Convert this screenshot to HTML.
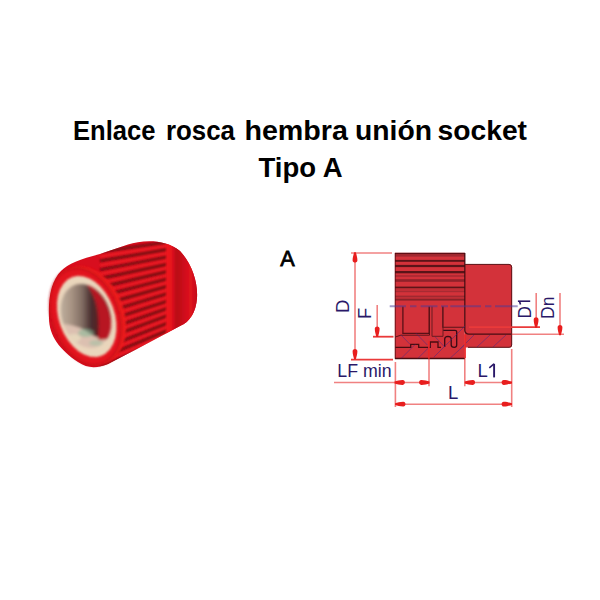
<!DOCTYPE html>
<html><head><meta charset="utf-8">
<style>
html,body{margin:0;padding:0;background:#fff;width:600px;height:600px;overflow:hidden}
svg{position:absolute;left:0;top:0;display:block}
text{font-family:"Liberation Sans",sans-serif}
</style></head>
<body>
<svg width="600" height="600" viewBox="0 0 600 600">
<defs>
<clipPath id="bodyclip"><path id="cyl" d="M96 268 L160 242 Q190 250 196 293 Q193 330 185 345 L104 364 Z"/></clipPath>
</defs>
<!-- Title -->
<g fill="#000" font-weight="bold" font-size="26.8" text-anchor="middle">
<text x="73.00" y="140" text-anchor="start" textLength="82.40" lengthAdjust="spacingAndGlyphs">Enlace</text>
<text x="166.00" y="140" text-anchor="start" textLength="69.00" lengthAdjust="spacingAndGlyphs">rosca</text>
<text x="244.40" y="140" text-anchor="start" textLength="103.60" lengthAdjust="spacingAndGlyphs">hembra</text>
<text x="355.00" y="140" text-anchor="start" textLength="77.00" lengthAdjust="spacingAndGlyphs">unión</text>
<text x="437.50" y="140" text-anchor="start" textLength="89.50" lengthAdjust="spacingAndGlyphs">socket</text>
<text x="300.5" y="176.8" textLength="84" lengthAdjust="spacingAndGlyphs">Tipo A</text>
</g>

<!-- Photo -->
<g id="photo">
<defs>
<clipPath id="silclip"><path d="M49 318 C48 296 52 280 61 271 C68 264 80 259 100 254 L128 244.5 C142 240 165 238.5 180 251 C192 264 198 282 197 298 C196 312 190 322 180 326 L135 350 L108 364 C98 368 88 369 78 362 C60 350 49 336 49 318 Z"/></clipPath>
<linearGradient id="backg" x1="0" y1="0" x2="1" y2="0">
<stop offset="0" stop-color="#f01a20"/>
<stop offset="0.15" stop-color="#e8141e"/>
<stop offset="0.3" stop-color="#b80a18"/>
<stop offset="0.5" stop-color="#cc0c1a"/>
<stop offset="0.7" stop-color="#e01420"/>
<stop offset="0.9" stop-color="#c00818"/>
<stop offset="1" stop-color="#b00816"/>
</linearGradient>
<linearGradient id="holeg" x1="0" y1="0" x2="1" y2="0">
<stop offset="0" stop-color="#c8bcaa"/>
<stop offset="0.25" stop-color="#a89484"/>
<stop offset="0.42" stop-color="#806c62"/>
<stop offset="0.55" stop-color="#4a3030"/>
<stop offset="0.7" stop-color="#5a1a1e"/>
<stop offset="1" stop-color="#801018"/>
</linearGradient>
<filter id="bl" x="-10%" y="-10%" width="120%" height="120%"><feGaussianBlur stdDeviation="0.9"/></filter>
<filter id="bl2" x="-10%" y="-10%" width="120%" height="120%"><feGaussianBlur stdDeviation="1.8"/></filter>
</defs>
<g clip-path="url(#silclip)">
<rect x="40" y="230" width="170" height="150" fill="#d80e1e"/>
<!-- ribs -->
<g filter="url(#bl)">
<g stroke="#760812" stroke-width="3.2" opacity="0.9">
<path d="M100 252.0L168 242.0M100 260.9L168 249.4M100 269.7L168 256.7M100 278.6L168 264.1M100 287.4L168 271.4M100 296.3L168 278.8M100 305.1L168 286.1M100 314.0L168 293.5M100 322.9L168 300.9M100 331.7L168 308.2M100 340.6L168 315.6M100 349.4L168 322.9M100 358.3L168 330.3M100 367.1L168 337.6M100 376.0L168 345.0"/>
</g>
<g stroke="#ff2a2a" stroke-width="2" opacity="0.6">
<path d="M100 256.4L168 245.7M100 265.3L168 253.0M100 274.1L168 260.4M100 283.0L168 267.8M100 291.9L168 275.1M100 300.7L168 282.5M100 309.6L168 289.8M100 318.4L168 297.2M100 327.3L168 304.5M100 336.1L168 311.9M100 345.0L168 319.2M100 353.9L168 326.6M100 362.7L168 334.0M100 371.6L168 341.3M100 380.4L168 348.7"/>
</g>
</g>
<!-- back smooth section -->
<rect x="166" y="230" width="35" height="120" fill="url(#backg)" filter="url(#bl)"/>
</g>
<!-- front chamfer band -->
<ellipse cx="88.5" cy="315.5" rx="35.5" ry="51" transform="rotate(-20 88.5 315.5)" fill="#ec1c1c" filter="url(#bl)"/>
<!-- front face ring -->
<ellipse cx="85.5" cy="316.5" rx="33.5" ry="50" transform="rotate(-20 85.5 316.5)" fill="#e2141e"/>
<ellipse cx="85.5" cy="316.5" rx="33.5" ry="50" transform="rotate(-20 85.5 316.5)" fill="none" stroke="#b80c18" stroke-width="2" opacity="0.6" filter="url(#bl)"/>
<ellipse cx="86.7" cy="316.5" rx="27.8" ry="41.9" transform="rotate(-20 86.7 316.5)" fill="#ead6bc" filter="url(#bl)"/>
<clipPath id="holeclip"><ellipse cx="86" cy="316" rx="24" ry="33" transform="rotate(-20 86 316)"/></clipPath>
<g filter="url(#bl2)">
<g clip-path="url(#holeclip)">
<rect x="55" y="280" width="65" height="75" fill="#dcc0b0"/>
<path d="M55 280H120V338C108 342 95 338 86 331C76 325 65 324 55 323Z" fill="url(#holeg)"/>
<path d="M86 284C102 290 113 312 112 334C106 340 102 341 98 339C100 318 98 298 86 284Z" fill="#b81424"/>
<ellipse cx="86" cy="333" rx="8" ry="4" fill="#88b898" opacity="0.6"/>
<ellipse cx="74" cy="338" rx="7" ry="4" fill="#e8e0c0" opacity="0.7"/>
<ellipse cx="96" cy="343" rx="7" ry="3" fill="#98c0a0" opacity="0.5"/>
</g>
</g>
</g>
<!-- Drawing -->
<g id="drawing">
<text transform="translate(280.2 266.2) scale(0.96 1)" font-size="22.6" fill="#000" stroke="#000" stroke-width="0.75">A</text>
<!-- knurled body -->
<rect x="394.8" y="252.8" width="70" height="106" fill="#d3323a"/>
<!-- right section -->
<path d="M465 264.2H509A3 3 0 0 1 512 267.2V345A2.5 2.5 0 0 1 509.5 347.5H465Z" fill="#d3323a"/>
<!-- knurl stripes -->
<g>
<rect x="395" y="252.8" width="70" height="1.6" fill="#5e0e14"/>
<rect x="395" y="254.3" width="70" height="2.3" fill="#a02830"/>
<rect x="395" y="259.9" width="70" height="1.9" fill="#5a1418"/>
<rect x="395" y="264.9" width="70" height="2.2" fill="#5a1418"/>
<rect x="395" y="271" width="70" height="2.3" fill="#5a1418"/>
<rect x="395" y="275.2" width="70" height="1.6" fill="#a82a32"/>
<rect x="395" y="279.2" width="70" height="2.6" fill="#90222a"/>
<rect x="395" y="286.6" width="70" height="1.4" fill="#5e1418"/>
<rect x="395" y="288" width="70" height="1.5" fill="#ae2a30"/>
<rect x="395" y="290.6" width="70" height="1.6" fill="#a82a32"/>
<rect x="395" y="295.6" width="70" height="1.8" fill="#a02830"/>
<rect x="395" y="298.6" width="70" height="2" fill="#8a2228"/>
</g>
<!-- outlines -->
<g stroke="#4a0c10" fill="none">
<path d="M395.3 253V358.8" stroke-width="1" opacity="0.7"/>
<path d="M395 358.5H465" stroke-width="1.6"/>
<path d="M464.8 253V330A4 4 0 0 0 468.8 334.2H511" stroke-width="1.3" stroke="#4a0c12"/>
<path d="M465 264.4H509A2.8 2.8 0 0 1 511.7 267.2V345A2.5 2.5 0 0 1 509 347.3H468" stroke-width="1" stroke="#5a1418"/>
<!-- inner rectangles -->
<path d="M402.9 306.5V333.3H429.2" stroke-width="1.3" stroke="#5a1016"/>
<path d="M429.2 306.5V334" stroke-width="1.3"/>
<path d="M432 306.5V336.3H443V306.5" stroke-width="1" stroke="#6a1a20"/>
<path d="M442.8 306.5V327.3H465" stroke-width="1.1" stroke="#5a1418"/>
<path d="M395.3 337L400.8 335.2H429.5V334" stroke-width="1" stroke="#5a1418"/>
<!-- thread profile -->
<path d="M395.3 347.3H410.7V344.3H418.7V347.3H430.3V342H438V347.3H441" stroke-width="1.3"/>
<path d="M443.3 330.3H455A1.7 1.7 0 0 1 456.7 332V345.3Q456.5 347.3 454.3 347.3Q451.2 347.3 451.2 345V338.8Q451 336.3 448 336.3Q444.7 336.5 444.7 339V347" stroke-width="1.3" stroke="#3a0a14"/>
</g>
<!-- hatch -->
<g stroke="#3e2a8a" stroke-width="0.75" opacity="0.65" fill="none">
<path d="M401 335L410 344.3M416 333.3L427.3 345M435 336.7L444.3 346.7"/>
<path d="M401.3 358.3L415.3 344.3M418 358.3L431 345.3M433.7 357.3L465 326M450.3 358L465 344.7M460 349L474 335M477 347L490 335M493 347L506 335"/>
</g>
<!-- center line -->
<path d="M389.7 306.2H406M410 306.2H416.5M420.6 306.2H437.5M441 306.2H448M450.3 306.2H481M485 306.2H491.4M495 306.2H517.7" stroke="#4a3a98" stroke-width="1.9" opacity="0.5"/>
</g>
<!-- dimension lines -->
<g stroke="#e62828" stroke-width="1.6" fill="none" opacity="0.58">
<path d="M351 253H392M355 253V358"/>
<path d="M377.2 305V335"/>
<path d="M536.2 293V325"/>
<path d="M560 293V332"/>
<path d="M395.4 362V407M429 341V386.3M464.8 335V386.3M511.7 349V407"/>
<path d="M334 382.5H395M395 382.5H429M465 382.5H512M395 404.2H512"/>
<path d="M512 334.3H564"/>
</g>
<g stroke="#ea3a3a" stroke-width="1.8" fill="none">
<path d="M351 359.6H393"/>
<path d="M373 336.7H393.5"/>
<path d="M469 327.2H540"/>
<path d="M428.8 341V358.5M465.2 334V358" stroke="#ee2626" stroke-width="1.2"/>
</g>
<g fill="#e81e1e">
<path transform="translate(355 252.5) rotate(-90)" d="M0.3 -0.9C-2 -1.3 -5 -2.5 -8 -2.4C-10.8 -2.2 -10.8 2.2 -8 2.4C-5 2.5 -2 1.3 0.3 0.9Z"/>
<path transform="translate(355 359) rotate(90)" d="M0.3 -0.9C-2 -1.3 -5 -2.5 -8 -2.4C-10.8 -2.2 -10.8 2.2 -8 2.4C-5 2.5 -2 1.3 0.3 0.9Z"/>
<path transform="translate(377.2 336.6) rotate(90)" d="M0.3 -0.9C-2 -1.3 -5 -2.5 -8 -2.4C-10.8 -2.2 -10.8 2.2 -8 2.4C-5 2.5 -2 1.3 0.3 0.9Z"/>
<path transform="translate(536.1 327.4) rotate(90)" d="M0.3 -0.9C-2 -1.3 -5 -2.5 -8 -2.4C-10.8 -2.2 -10.8 2.2 -8 2.4C-5 2.5 -2 1.3 0.3 0.9Z"/>
<path transform="translate(560 335) rotate(90)" d="M0.3 -0.9C-2 -1.3 -5 -2.5 -8 -2.4C-10.8 -2.2 -10.8 2.2 -8 2.4C-5 2.5 -2 1.3 0.3 0.9Z"/>
<path transform="translate(394.8 382.5) rotate(180)" d="M0.3 -0.9C-2 -1.3 -5 -2.5 -8 -2.4C-10.8 -2.2 -10.8 2.2 -8 2.4C-5 2.5 -2 1.3 0.3 0.9Z"/>
<path transform="translate(429.2 382.5) rotate(0)" d="M0.3 -0.9C-2 -1.3 -5 -2.5 -8 -2.4C-10.8 -2.2 -10.8 2.2 -8 2.4C-5 2.5 -2 1.3 0.3 0.9Z"/>
<path transform="translate(465 382.5) rotate(180)" d="M0.3 -0.9C-2 -1.3 -5 -2.5 -8 -2.4C-10.8 -2.2 -10.8 2.2 -8 2.4C-5 2.5 -2 1.3 0.3 0.9Z"/>
<path transform="translate(511.7 382.5) rotate(0)" d="M0.3 -0.9C-2 -1.3 -5 -2.5 -8 -2.4C-10.8 -2.2 -10.8 2.2 -8 2.4C-5 2.5 -2 1.3 0.3 0.9Z"/>
<path transform="translate(395.4 404.2) rotate(180)" d="M0.3 -0.9C-2 -1.3 -5 -2.5 -8 -2.4C-10.8 -2.2 -10.8 2.2 -8 2.4C-5 2.5 -2 1.3 0.3 0.9Z"/>
<path transform="translate(511.7 404.2) rotate(0)" d="M0.3 -0.9C-2 -1.3 -5 -2.5 -8 -2.4C-10.8 -2.2 -10.8 2.2 -8 2.4C-5 2.5 -2 1.3 0.3 0.9Z"/>
</g>

<g fill="#2a1868" font-size="18.5">
<text transform="translate(337.3 377.4) scale(0.96 1)">LF min</text>
<text x="477.6" y="377.4">L</text>
<text x="448.1" y="399.2">L</text>
<text transform="translate(349 313) rotate(-90)">D</text>
<text transform="translate(371 319) rotate(-90)">F</text>
<text transform="translate(531 318.6) rotate(-90) scale(0.93 1)">D</text>
<text transform="translate(554 318.9) rotate(-90) scale(0.95 1)">Dn</text>
</g>
<g stroke="#2a1868" fill="none">
<path d="M494.1 363.8V377.4" stroke-width="1.9"/>
<path d="M489.3 367.8L494 363.9" stroke-width="1.6"/>
<path d="M517.9 301.2H530.2" stroke-width="1.6"/>
<path d="M519.6 301.6L520.5 304.6" stroke-width="1.6"/>
</g>
</svg>
</body></html>
